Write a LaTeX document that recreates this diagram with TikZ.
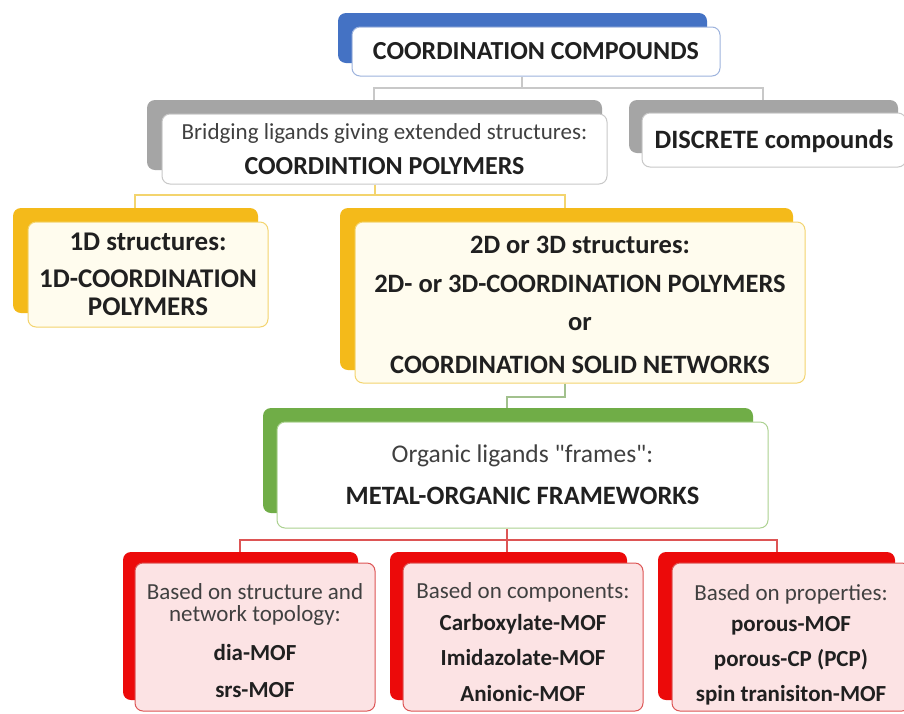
\documentclass[tikz,border=0pt]{standalone}
\usepackage{fontspec}
\setmainfont{Carlito}
\definecolor{blueB}{HTML}{4472C4}
\definecolor{blueL}{HTML}{9DB3DD}
\definecolor{grayB}{HTML}{A5A5A5}
\definecolor{grayL}{HTML}{C8C8C8}
\definecolor{yelB}{HTML}{F4BA1A}
\definecolor{yelL}{HTML}{F3D46E}
\definecolor{yelF}{HTML}{FFFCEE}
\definecolor{grnB}{HTML}{70AD47}
\definecolor{grnL}{HTML}{ABD190}
\definecolor{redB}{HTML}{EC0A0A}
\definecolor{redL}{HTML}{DD5555}
\definecolor{redF}{HTML}{FCE3E4}
\definecolor{txtB}{HTML}{202020}
\definecolor{txtR}{HTML}{404040}
\begin{document}
\begin{tikzpicture}[x=1pt,y=-1pt,
  shp/.style={rectangle,rounded corners=8pt,inner sep=0pt,align=center,text=txtB},
  back/.style={shp,draw=none},
  front/.style={shp,line width=1pt},
  conn/.style={line width=1.2pt},
  redtext/.style={font=\fontsize{23}{26}\selectfont},
]
\useasboundingbox (0,0) rectangle (904,713);
\fill[white] (0,0) rectangle (904,713);

% ---- top
\node[back,fill=blueB,minimum width=369pt,minimum height=50pt] (topB) at (522.5,38) {};
\node[front,draw=blueL,fill=white,minimum width=368pt,minimum height=49pt,
  font=\fontsize{26}{30}\selectfont\bfseries] (top) at (536,51.5)
  {COORDINATION COMPOUNDS};

% ---- gray level
\node[back,fill=grayB,minimum width=455pt,minimum height=70pt] (cpB) at (374.5,135) {};
\node[front,draw=grayL,fill=white,minimum width=445pt,minimum height=70pt,
  font=\fontsize{23}{35}\selectfont] (cp) at (384.5,149)
  {\color{txtR}Bridging ligands giving extended structures:\\
   \fontsize{26}{35}\selectfont\bfseries COORDINTION POLYMERS};

\node[back,fill=grayB,minimum width=269pt,minimum height=53pt] (discB) at (763.5,126.5) {};
\node[front,draw=grayL,fill=white,minimum width=264pt,minimum height=54pt,
  font=\fontsize{26.5}{30}\selectfont\bfseries] (disc) at (774,140)
  {\rule{0pt}{21pt}DISCRETE compounds};

% ---- yellow level
\node[back,fill=yelB,minimum width=245pt,minimum height=105pt] (oneB) at (135.5,260.5) {};
\node[front,draw=yelL,fill=yelF,minimum width=240pt,minimum height=105pt,
  font=\fontsize{27}{28}\selectfont\bfseries] (one) at (148,274.5)
  {1D structures:\\[9pt]1D-COORDINATION\\POLYMERS};

\node[back,fill=yelB,minimum width=453pt,minimum height=162pt] (twoB) at (566.5,289) {};
\node[front,draw=yelL,fill=yelF,minimum width=450pt,minimum height=161pt,
  font=\fontsize{26.5}{38}\selectfont\bfseries] (two) at (580,302.5)
  {\rule{0pt}{22pt}2D or 3D structures:\\[1pt]2D- or 3D-COORDINATION POLYMERS\\or\\[5pt]COORDINATION SOLID NETWORKS};

% ---- green level
\node[back,fill=grnB,minimum width=490pt,minimum height=105pt] (mofB) at (508,460.5) {};
\node[front,draw=grnL,fill=white,minimum width=491pt,minimum height=106pt,
  font=\fontsize{25.5}{42}\selectfont] (mof) at (522.5,475)
  {\color{txtR}Organic ligands \textquotedbl frames\textquotedbl :\\
   \fontsize{26.5}{42}\selectfont\bfseries METAL-ORGANIC FRAMEWORKS};

% ---- red level
\node[back,fill=redB,minimum width=235pt,minimum height=148pt] (rlB) at (240.5,626) {};
\node[front,draw=redL,fill=redF,minimum width=240pt,minimum height=148pt,redtext] (rl) at (255,637)
  {\color{txtR}\rule{0pt}{23pt}Based on structure and\\[-4pt]\color{txtR}network topology:\\[13pt]
   \bfseries dia-MOF\\[11pt]\bfseries srs-MOF};

\node[back,fill=redB,minimum width=237pt,minimum height=148pt] (rmB) at (508.5,626) {};
\node[front,draw=redL,fill=redF,minimum width=240pt,minimum height=148pt,redtext] (rm) at (523,637)
  {\color{txtR}\rule{0pt}{27pt}Based on components:\\[6pt]
   \bfseries Carboxylate-MOF\\[9pt]\bfseries Imidazolate-MOF\\[10pt]\bfseries Anionic-MOF};

\node[back,fill=redB,minimum width=237pt,minimum height=148pt] (rrB) at (776.5,626) {};
\node[front,draw=redL,fill=redF,minimum width=238pt,minimum height=148pt,redtext] (rr) at (791,637)
  {\color{txtR}\rule{0pt}{31pt}Based on properties:\\[5pt]
   \bfseries porous-MOF\\[9pt]\bfseries porous-CP (PCP)\\[9pt]\bfseries spin tranisiton-MOF};

% ---- connectors
\coordinate (j1) at (522,88);
\coordinate (xa) at (374,0);
\coordinate (xb) at (763,0);
\draw[conn,draw=grayL] (top.south -| j1) -- (j1);
\draw[conn,draw=grayL] (j1) -| (cpB.north -| xa);
\draw[conn,draw=grayL] (j1) -| (discB.north -| xb);

\coordinate (j2) at (375,195);
\coordinate (xc) at (135,0);
\coordinate (xd) at (565,0);
\draw[conn,draw=yelL] (cp.south -| j2) -- (j2);
\draw[conn,draw=yelL] (j2) -| (oneB.north -| xc);
\draw[conn,draw=yelL] (j2) -| (twoB.north -| xd);

\coordinate (j3) at (565,397);
\coordinate (xe) at (507,0);
\draw[conn,draw=grnL!80!gray] (two.south -| j3) -- (j3) -| (mofB.north -| xe);

\coordinate (j4) at (507,540);
\coordinate (xf) at (240,0);
\coordinate (xg) at (777,0);
\draw[conn,draw=redL] (mof.south -| j4) -- (j4);
\draw[conn,draw=redL] (j4) -| (rlB.north -| xf);
\draw[conn,draw=redL] (j4) -- (rmB.north -| j4);
\draw[conn,draw=redL] (j4) -| (rrB.north -| xg);
\end{tikzpicture}
\end{document}
